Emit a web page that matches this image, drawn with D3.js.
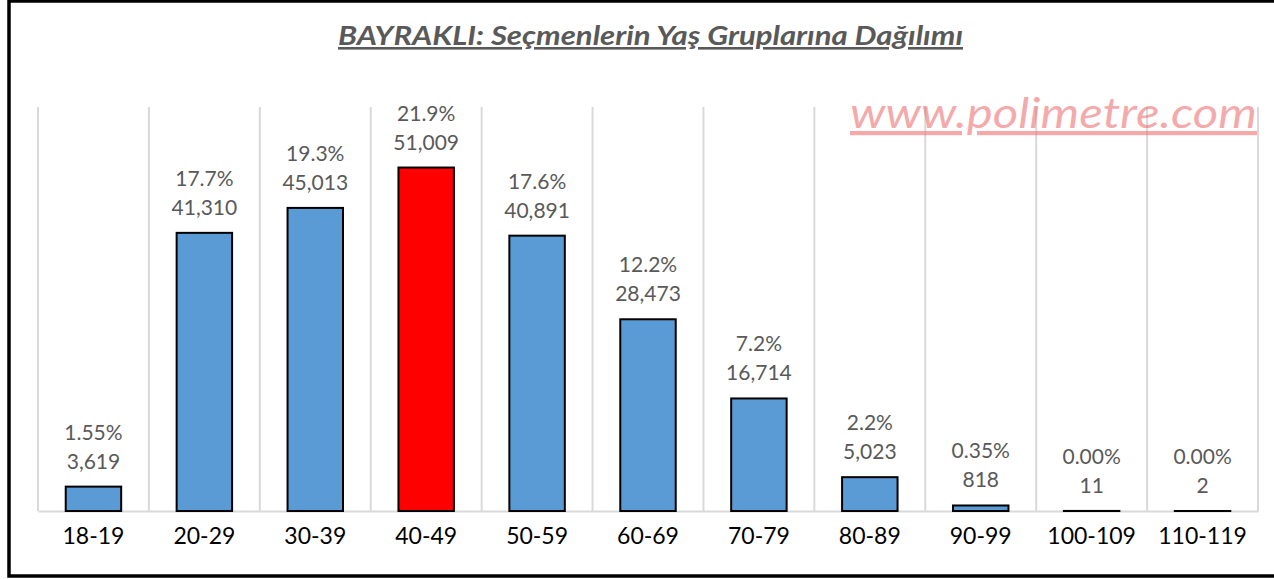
<!DOCTYPE html>
<html>
<head>
<meta charset="utf-8">
<script src="https://cdn.jsdelivr.net/npm/d3@7"></script>
<style>
    body { margin: 0; background: #fff; }
    svg { display: block; }
    text { font-family: Lato, "Open Sans", sans-serif; }
</style>
</head>
<body>
<div id="chart"></div>
<script>
// Yaş grupları ve seçmen sayıları
const categories = ["18-19", "20-29", "30-39", "40-49", "50-59", "60-69", "70-79", "80-89", "90-99", "100-109", "110-119"];
const voters = [3619, 41310, 45013, 51009, 40891, 28473, 16714, 5023, 818, 11, 2];
const pctLabels = ["1.55%", "17.7%", "19.3%", "21.9%", "17.6%", "12.2%", "7.2%", "2.2%", "0.35%", "0.00%", "0.00%"];
const highlight = "40-49";
const yDomain = [0, 60000];

const width = 1274;
const height = 579;
const plot = { left: 38, right: 1258, top: 107, bottom: 511 };

const svg = d3.select("#chart").append("svg")
    .attr("width", width)
    .attr("height", height);

// Çerçeve
svg.append("rect")
    .attr("x", 9)
    .attr("y", 1)
    .attr("width", 1290)
    .attr("height", 575)
    .attr("fill", "none")
    .attr("stroke", "#000")
    .attr("stroke-width", 3.5);

const x = d3.scaleBand()
    .domain(categories)
    .range([plot.left, plot.right])
    .paddingInner(0.5)
    .paddingOuter(0.25);

const y = d3.scaleLinear()
    .domain(yDomain)
    .range([plot.bottom, plot.top]);

// Dikey ızgara çizgileri (kategori sınırları)
const step = x.step();
const edges = categories.map(c => x(c) - step * 0.25);
edges.push(plot.right);

svg.append("g")
    .selectAll("line")
    .data(edges)
    .enter().append("line")
    .attr("x1", d => d)
    .attr("x2", d => d)
    .attr("y1", plot.top)
    .attr("y2", plot.bottom)
    .attr("stroke", "#d9d9d9")
    .attr("stroke-width", 2);

// Yatay eksen
const xAxis = svg.append("g")
    .attr("transform", `translate(0,${plot.bottom})`)
    .call(d3.axisBottom(x).tickSize(0).tickPadding(26));

xAxis.select(".domain")
    .attr("stroke", "#d9d9d9")
    .attr("stroke-width", 2);

xAxis.selectAll("text")
    .attr("font-size", "23px")
    .attr("fill", "#000")
    .attr("dy", "0.32em");

// Çubuklar
svg.append("g")
    .selectAll("rect")
    .data(categories)
    .enter().append("rect")
    .attr("x", d => x(d))
    .attr("y", (d, i) => y(voters[i]))
    .attr("width", x.bandwidth())
    .attr("height", (d, i) => y(0) - y(voters[i]))
    .attr("fill", d => d === highlight ? "#ff0000" : "#5b9bd5")
    .attr("stroke", "#000")
    .attr("stroke-width", 2);

// Etiketler
const labels = svg.append("g")
    .selectAll("g")
    .data(categories)
    .enter().append("g")
    .attr("transform", (d, i) => `translate(${x(d) + x.bandwidth() / 2},${y(voters[i])})`);

labels.append("text")
    .attr("text-anchor", "middle")
    .attr("y", -47)
    .attr("font-size", "21px")
    .attr("fill", "#595959")
    .text((d, i) => pctLabels[i]);

labels.append("text")
    .attr("text-anchor", "middle")
    .attr("y", -18)
    .attr("font-size", "21px")
    .attr("fill", "#595959")
    .text((d, i) => d3.format(",")(voters[i]));

// Başlık
svg.append("text")
    .attr("x", 338)
    .attr("y", 45)
    .attr("font-size", "26px")
    .attr("font-weight", "bold")
    .attr("font-style", "italic")
    .attr("fill", "#595959")
    .attr("text-decoration", "underline")
    .attr("textLength", 625)
    .attr("lengthAdjust", "spacingAndGlyphs")
    .text("BAYRAKLI: Seçmenlerin Yaş Gruplarına Dağılımı");

// Filigran
svg.append("text")
    .attr("x", 850)
    .attr("y", 128)
    .attr("font-size", "42px")
    .attr("font-style", "italic")
    .attr("fill", "#ee7070")
    .attr("fill-opacity", 0.6)
    .attr("text-decoration", "underline")
    .attr("textLength", 407)
    .attr("lengthAdjust", "spacingAndGlyphs")
    .text("www.polimetre.com");
</script>
</body>
</html>
